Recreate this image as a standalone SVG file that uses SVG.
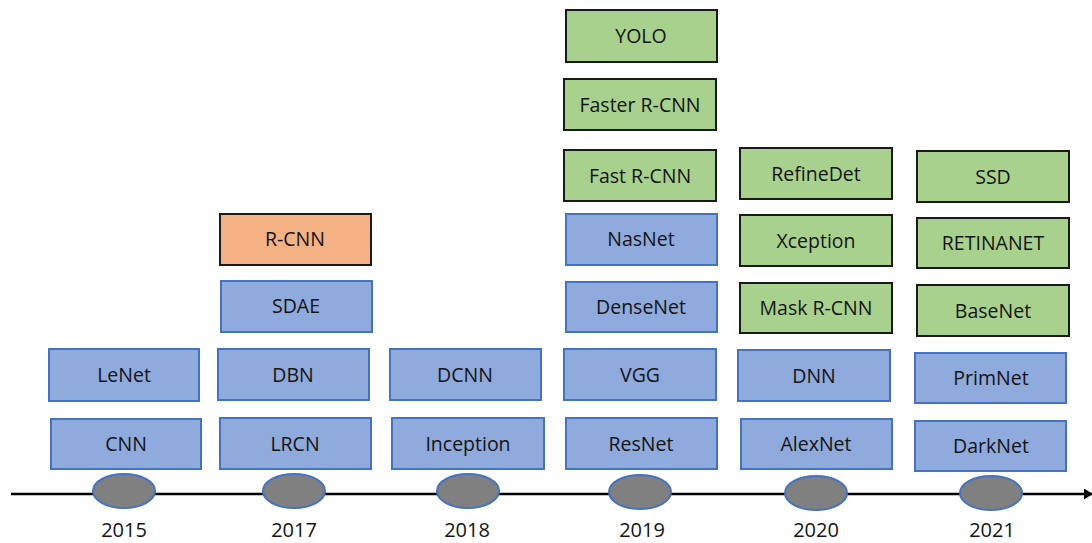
<svg xmlns="http://www.w3.org/2000/svg" width="1092" height="543" viewBox="0 0 1092 543">
<style>
.b rect{fill:#8faadc;stroke:#4472c4;stroke-width:2}
.g rect{fill:#a9d18e;stroke:#1a1a1a;stroke-width:2}
.o rect{fill:#f4b183;stroke:#1a1a1a;stroke-width:2}
text{font-family:"Open Sans","Noto Sans","Liberation Sans",sans-serif;font-size:19.5px;fill:#141414;text-anchor:middle}
.yr text{font-size:20px}
.yr ellipse{fill:#808080;stroke:#4472c4;stroke-width:2}
</style>
<defs>
<marker id="ah" markerWidth="9" markerHeight="11" refX="8" refY="5.5" orient="auto" markerUnits="userSpaceOnUse">
<path d="M0,0 L9,5.5 L0,11 Z" fill="#000"/>
</marker>
</defs>
<g id="connectors">
<line x1="11" y1="494" x2="1092" y2="494" stroke="#000" stroke-width="2.5" marker-end="url(#ah)"/>
</g>
<g id="y2015" class="yr"><ellipse cx="124" cy="491" rx="31" ry="17"/><text x="124" y="537">2015</text></g>
<g id="y2017" class="yr"><ellipse cx="294" cy="491" rx="31" ry="17"/><text x="294" y="537">2017</text></g>
<g id="y2018" class="yr"><ellipse cx="468" cy="491" rx="31" ry="17"/><text x="467" y="537">2018</text></g>
<g id="y2019" class="yr"><ellipse cx="640" cy="492" rx="31" ry="17"/><text x="642" y="537">2019</text></g>
<g id="y2020" class="yr"><ellipse cx="816" cy="493" rx="31" ry="17"/><text x="816" y="537">2020</text></g>
<g id="y2021" class="yr"><ellipse cx="991" cy="493" rx="31" ry="17"/><text x="992" y="537">2021</text></g>

<g id="lenet" class="b"><rect x="49" y="349" width="150" height="52"/><text x="124" y="382">LeNet</text></g>
<g id="cnn" class="b"><rect x="51" y="419" width="150" height="50"/><text x="126" y="451">CNN</text></g>

<g id="rcnn" class="o"><rect x="220" y="214" width="151" height="51"/><text x="295" y="246">R-CNN</text></g>
<g id="sdae" class="b"><rect x="221" y="281" width="151" height="51"/><text x="296" y="313">SDAE</text></g>
<g id="dbn" class="b"><rect x="218" y="349" width="151" height="51"/><text x="293" y="382">DBN</text></g>
<g id="lrcn" class="b"><rect x="220" y="418" width="151" height="51"/><text x="295" y="451">LRCN</text></g>

<g id="dcnn" class="b"><rect x="390" y="349" width="151" height="51"/><text x="465" y="382">DCNN</text></g>
<g id="inception" class="b"><rect x="392" y="418" width="152" height="51"/><text x="468" y="451">Inception</text></g>

<g id="yolo" class="g"><rect x="566" y="10" width="151" height="52"/><text x="641" y="43">YOLO</text></g>
<g id="fasterrcnn" class="g"><rect x="564" y="79" width="152" height="51"/><text x="640" y="112">Faster R-CNN</text></g>
<g id="fastrcnn" class="g"><rect x="564" y="150" width="152" height="51"/><text x="640" y="183">Fast R-CNN</text></g>
<g id="nasnet" class="b"><rect x="566" y="214" width="151" height="51"/><text x="641" y="246">NasNet</text></g>
<g id="densenet" class="b"><rect x="566" y="282" width="151" height="50"/><text x="641" y="314">DenseNet</text></g>
<g id="vgg" class="b"><rect x="564" y="349" width="152" height="51"/><text x="640" y="382">VGG</text></g>
<g id="resnet" class="b"><rect x="566" y="418" width="151" height="51"/><text x="641" y="451">ResNet</text></g>

<g id="refinedet" class="g"><rect x="740" y="148" width="152" height="51"/><text x="816" y="181">RefineDet</text></g>
<g id="xception" class="g"><rect x="740" y="215" width="152" height="51"/><text x="816" y="248">Xception</text></g>
<g id="maskrcnn" class="g"><rect x="740" y="283" width="152" height="50"/><text x="816" y="315">Mask R-CNN</text></g>
<g id="dnn" class="b"><rect x="738" y="350" width="152" height="51"/><text x="814" y="383">DNN</text></g>
<g id="alexnet" class="b"><rect x="741" y="419" width="151" height="50"/><text x="816" y="451">AlexNet</text></g>

<g id="ssd" class="g"><rect x="917" y="151" width="152" height="51"/><text x="993" y="184">SSD</text></g>
<g id="retinanet" class="g"><rect x="917" y="218" width="152" height="50"/><text x="993" y="250">RETINANET</text></g>
<g id="basenet" class="g"><rect x="917" y="285" width="152" height="51"/><text x="993" y="318">BaseNet</text></g>
<g id="primnet" class="b"><rect x="915" y="353" width="151" height="50"/><text x="991" y="385">PrimNet</text></g>
<g id="darknet" class="b"><rect x="915" y="421" width="151" height="50"/><text x="991" y="453">DarkNet</text></g>
</svg>
